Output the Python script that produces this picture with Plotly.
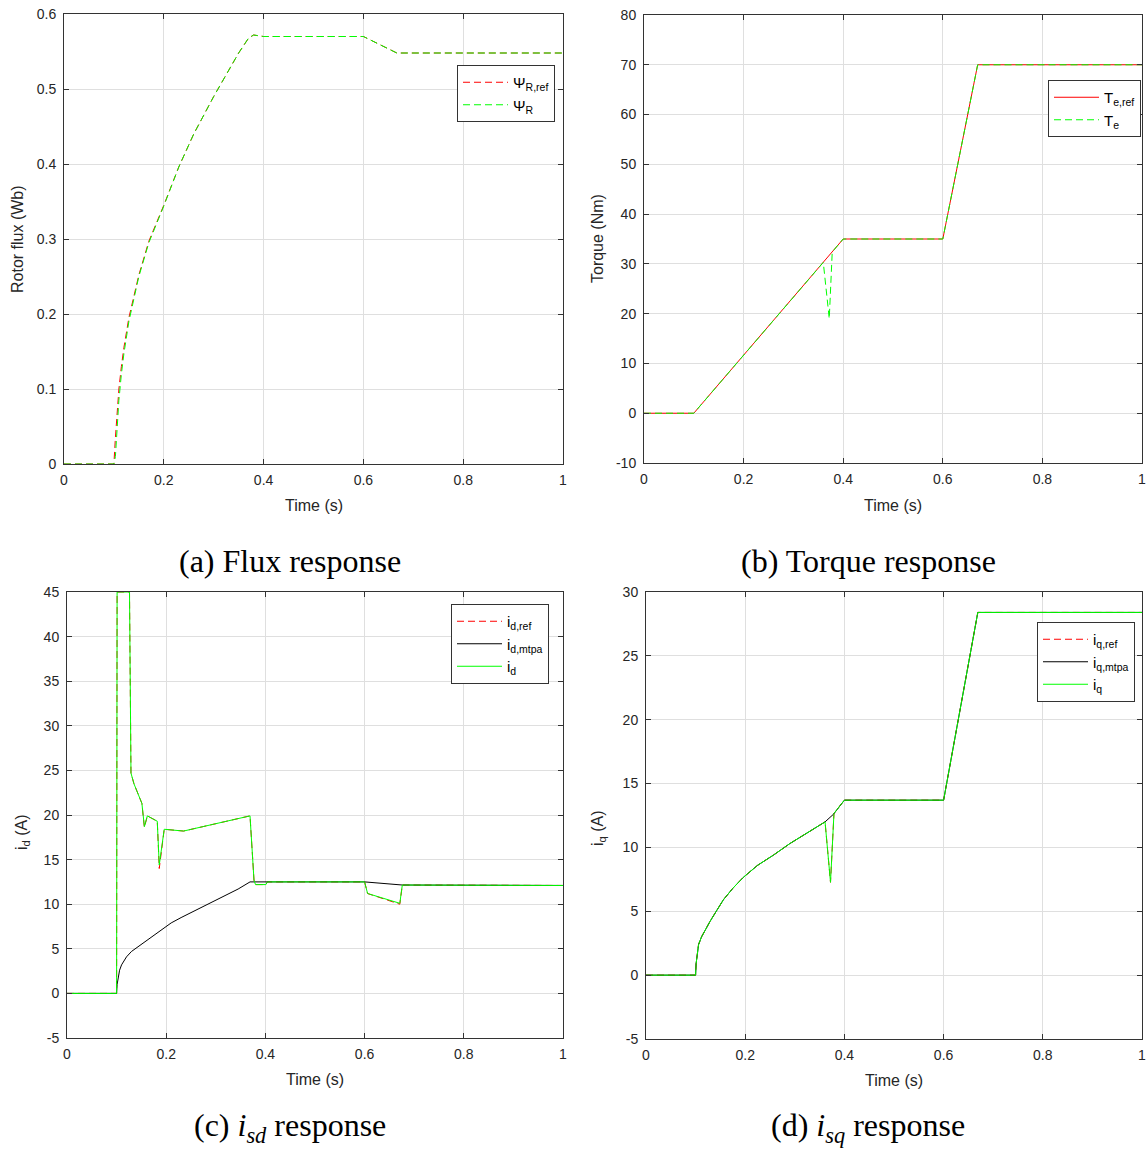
import plotly.graph_objects as go

# ---------------- data ----------------
# (a) rotor flux
t_flux = [0, 0.1, 0.103, 0.106, 0.11, 0.115, 0.12, 0.13, 0.14, 0.15, 0.17, 0.2, 0.23, 0.26, 0.3, 0.33,
          0.35, 0.37, 0.38, 0.4, 0.6, 0.667, 1.0]
flux_ref = [0, 0, 0.035, 0.07, 0.10, 0.13, 0.155, 0.195, 0.225, 0.252, 0.297, 0.345, 0.396, 0.44, 0.49, 0.525,
            0.548, 0.568, 0.572, 0.570, 0.570, 0.548, 0.548]
flux_act = [0, 0, 0.01, 0.045, 0.085, 0.12, 0.147, 0.19, 0.222, 0.25, 0.295, 0.344, 0.396, 0.44, 0.49, 0.525,
            0.548, 0.568, 0.572, 0.570, 0.570, 0.548, 0.548]

# (b) torque
t_te_ref = [0, 0.1, 0.4, 0.6, 0.67, 1.0]
te_ref = [0, 0, 35, 35, 70, 70]
t_te = [0, 0.1, 0.36, 0.372, 0.378, 0.4, 0.6, 0.67, 1.0]
te_act = [0, 0, 30.3, 19.0, 32.4, 35, 35, 70, 70]

# (c) d-axis current
t_id = [0, 0.1, 0.101, 0.126, 0.129, 0.135, 0.151, 0.156, 0.162, 0.182, 0.186, 0.196, 0.235, 0.288,
        0.369, 0.377, 0.380, 0.401, 0.404, 0.6, 0.606, 0.671, 0.676, 1.0]
id_ref = [0, 0, 45, 45, 24.7, 23.5, 21.3, 18.6, 19.9, 19.3, 14.0, 18.4, 18.2, 18.9,
          19.9, 12.7, 12.2, 12.2, 12.5, 12.5, 11.2, 10.0, 12.15, 12.1]
id_act = [0, 0, 45, 45, 24.7, 23.5, 21.3, 18.7, 19.9, 19.3, 14.4, 18.4, 18.2, 18.9,
          19.9, 12.7, 12.2, 12.2, 12.5, 12.5, 11.2, 10.1, 12.15, 12.1]
t_idm = [0, 0.1, 0.101, 0.103, 0.106, 0.11, 0.115, 0.12, 0.13, 0.14, 0.154, 0.17, 0.188, 0.21, 0.23,
         0.255, 0.28, 0.3, 0.321, 0.345, 0.369, 0.6, 0.676, 1.0]
id_mtpa = [0, 0, 1.0, 1.9, 2.6, 3.2, 3.7, 4.1, 4.7, 5.1, 5.7, 6.4, 7.1, 7.9, 8.5,
           9.2, 9.9, 10.4, 11.0, 11.7, 12.5, 12.5, 12.15, 12.1]

# (d) q-axis current
t_iq = [0, 0.1, 0.101, 0.103, 0.106, 0.112, 0.12, 0.129, 0.14, 0.156, 0.175, 0.196, 0.225, 0.257, 0.29,
        0.317, 0.34, 0.361, 0.372, 0.379, 0.4, 0.6, 0.669, 1.0]
iq_ref = [0, 0, 0.9, 1.7, 2.4, 3.0, 3.6, 4.2, 4.9, 5.9, 6.8, 7.65, 8.6, 9.4, 10.3,
          10.97, 11.5, 12.0, 7.27, 12.67, 13.7, 13.7, 28.4, 28.4]
iq_act = [0, 0, 0.9, 1.7, 2.4, 3.0, 3.6, 4.2, 4.9, 5.9, 6.8, 7.65, 8.6, 9.4, 10.3,
          10.97, 11.5, 12.0, 7.27, 12.67, 13.7, 13.7, 28.4, 28.4]
t_iqm = [0, 0.1, 0.101, 0.103, 0.106, 0.112, 0.12, 0.129, 0.14, 0.156, 0.175, 0.196, 0.225, 0.257, 0.29,
         0.317, 0.34, 0.361, 0.378, 0.4, 0.6, 0.669, 1.0]
iq_mtpa = [0, 0, 0.9, 1.7, 2.4, 3.0, 3.6, 4.2, 4.9, 5.9, 6.8, 7.65, 8.6, 9.4, 10.3,
           10.97, 11.5, 12.0, 12.6, 13.7, 13.7, 28.4, 28.4]

# tick labels
x_ticks = [0, 0.2, 0.4, 0.6, 0.8, 1]
x_ticktext = ["0", "0.2", "0.4", "0.6", "0.8", "1"]
ya_ticks = [0, 0.1, 0.2, 0.3, 0.4, 0.5, 0.6]
ya_ticktext = ["0", "0.1", "0.2", "0.3", "0.4", "0.5", "0.6"]
yb_ticks = [-10, 0, 10, 20, 30, 40, 50, 60, 70, 80]
yc_ticks = [-5, 0, 5, 10, 15, 20, 25, 30, 35, 40, 45]
yd_ticks = [-5, 0, 5, 10, 15, 20, 25, 30]

captions = ["(a) Flux response", "(b) Torque response",
            "(c) <i>i</i><sub><i>sd</i></sub> response", "(d) <i>i</i><sub><i>sq</i></sub> response"]

# ---------------- layout helpers ----------------
W, H = 1148, 1151
def px(x):
    return x / W
def py(y):
    return 1 - y / H

RED = "#ff0000"
GREEN = "#00ff00"
BLACK = "#000000"
DASH = "7px,4px"
SANS = "Liberation Sans, Arial, Helvetica, sans-serif"
SERIF = "Liberation Serif, Times New Roman, serif"

fig = go.Figure()

# (a)
fig.add_trace(go.Scatter(x=t_flux, y=flux_ref, mode="lines", name="Ψ<sub>R,ref</sub>",
                         line=dict(color=RED, width=1, dash=DASH), xaxis="x", yaxis="y", legend="legend"))
fig.add_trace(go.Scatter(x=t_flux, y=flux_act, mode="lines", name="Ψ<sub>R</sub>",
                         line=dict(color=GREEN, width=1, dash=DASH), xaxis="x", yaxis="y", legend="legend"))
# (b)
fig.add_trace(go.Scatter(x=t_te_ref, y=te_ref, mode="lines", name="T<sub>e,ref</sub>",
                         line=dict(color=RED, width=1), xaxis="x2", yaxis="y2", legend="legend2"))
fig.add_trace(go.Scatter(x=t_te, y=te_act, mode="lines", name="T<sub>e</sub>",
                         line=dict(color=GREEN, width=1, dash=DASH), xaxis="x2", yaxis="y2", legend="legend2"))
# (c)
fig.add_trace(go.Scatter(x=t_id, y=id_ref, mode="lines", name="i<sub>d,ref</sub>",
                         line=dict(color=RED, width=1, dash=DASH), xaxis="x3", yaxis="y3", legend="legend3"))
fig.add_trace(go.Scatter(x=t_idm, y=id_mtpa, mode="lines", name="i<sub>d,mtpa</sub>",
                         line=dict(color=BLACK, width=1), xaxis="x3", yaxis="y3", legend="legend3"))
fig.add_trace(go.Scatter(x=t_id, y=id_act, mode="lines", name="i<sub>d</sub>",
                         line=dict(color=GREEN, width=1), xaxis="x3", yaxis="y3", legend="legend3"))
# (d)
fig.add_trace(go.Scatter(x=t_iq, y=iq_ref, mode="lines", name="i<sub>q,ref</sub>",
                         line=dict(color=RED, width=1, dash=DASH), xaxis="x4", yaxis="y4", legend="legend4"))
fig.add_trace(go.Scatter(x=t_iqm, y=iq_mtpa, mode="lines", name="i<sub>q,mtpa</sub>",
                         line=dict(color=BLACK, width=1), xaxis="x4", yaxis="y4", legend="legend4"))
fig.add_trace(go.Scatter(x=t_iq, y=iq_act, mode="lines", name="i<sub>q</sub>",
                         line=dict(color=GREEN, width=1), xaxis="x4", yaxis="y4", legend="legend4"))

ax_common = dict(showline=True, linecolor="#333333", linewidth=1, mirror="ticks",
                 ticks="inside", ticklen=5, tickwidth=1, tickcolor="#333333",
                 showgrid=True, gridcolor="#dfdfdf", gridwidth=1, zeroline=False,
                 tickfont=dict(family=SANS, size=14, color="#262626"), fixedrange=True,
                 tickmode="array", automargin=False)

boxes = {
    "a": ((64, 563), (14, 464)),
    "b": ((644, 1142), (15, 463)),
    "c": ((67, 563), (592, 1038)),
    "d": ((646, 1142), (592, 1039)),
}

def xdom(k):
    return [px(boxes[k][0][0]), px(boxes[k][0][1])]
def ydom(k):
    return [py(boxes[k][1][1]), py(boxes[k][1][0])]

layout = dict(template="none", width=W, height=H, margin=dict(l=0, r=0, t=0, b=0, pad=0),
              paper_bgcolor="white", plot_bgcolor="white", showlegend=True)

for i, (k, yt, ytt, yr) in enumerate([
        ("a", ya_ticks, ya_ticktext, [0, 0.6]),
        ("b", yb_ticks, [str(v) for v in yb_ticks], [-10, 80]),
        ("c", yc_ticks, [str(v) for v in yc_ticks], [-5, 45]),
        ("d", yd_ticks, [str(v) for v in yd_ticks], [-5, 30])]):
    sfx = "" if i == 0 else str(i + 1)
    layout["xaxis" + sfx] = dict(ax_common, domain=xdom(k), range=[0, 1], anchor="y" + sfx,
                                 tickvals=x_ticks, ticktext=x_ticktext, ticklabelstandoff=3)
    layout["yaxis" + sfx] = dict(ax_common, domain=ydom(k), range=yr, anchor="x" + sfx,
                                 tickvals=yt, ticktext=ytt, ticklabelstandoff=4)

leg_common = dict(bgcolor="white", bordercolor="#333333", borderwidth=1,
                  font=dict(family=SANS, size=15, color="#000000"),
                  xanchor="right", yanchor="top", itemwidth=45, tracegroupgap=0)
layout["legend"] = dict(leg_common, x=px(555), y=py(65))
layout["legend2"] = dict(leg_common, x=px(1141), y=py(80))
layout["legend3"] = dict(leg_common, x=px(549), y=py(604))
layout["legend4"] = dict(leg_common, x=px(1135), y=py(622))

fig.update_layout(**layout)

# axis titles
titles = [
    ("Time (s)", 313.5, 505, 0), ("Rotor flux (Wb)", 18, 239, -90),
    ("Time (s)", 893, 505, 0), ("Torque (Nm)", 598, 239, -90),
    ("Time (s)", 315, 1079, 0), ("i<sub>d</sub> (A)", 22, 832, -90),
    ("Time (s)", 894, 1080, 0), ("i<sub>q</sub> (A)", 598, 828, -90),
]
for txt, x, y, ang in titles:
    fig.add_annotation(text=txt, x=px(x), y=py(y), xref="paper", yref="paper",
                       xanchor="center", yanchor="middle", showarrow=False, textangle=ang,
                       font=dict(family=SANS, size=16, color="#262626"))

cap_pos = [(290, 561), (868, 561), (290, 1127), (868, 1127)]
for txt, (x, y) in zip(captions, cap_pos):
    fig.add_annotation(text=txt, x=px(x), y=py(y), xref="paper", yref="paper",
                       xanchor="center", yanchor="middle", showarrow=False,
                       font=dict(family=SERIF, size=32, color="#000000"))

fig.write_html("out.html", config={"displayModeBar": False},
               post_script="document.body.style.margin='0';document.body.style.overflow='hidden';")
